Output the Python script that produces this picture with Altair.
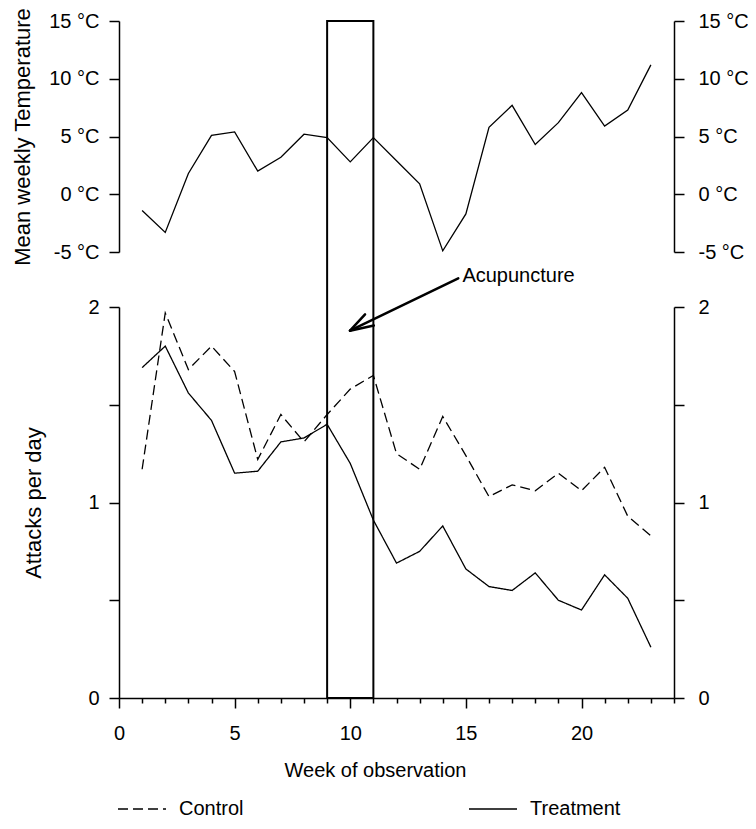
import altair as alt
import pandas as pd

# ---------------- data ----------------
weeks = list(range(1, 24))
temperature = [-1.4, -3.3, 1.8, 5.1, 5.4, 2.0, 3.2, 5.2, 4.9, 2.8, 4.9, 2.9, 0.9,
               -4.9, -1.7, 5.8, 7.7, 4.3, 6.2, 8.8, 5.9, 7.3, 11.2]
control = [1.17, 1.97, 1.68, 1.80, 1.67, 1.22, 1.45, 1.31, 1.45, 1.58, 1.65, 1.25,
           1.17, 1.44, 1.24, 1.03, 1.09, 1.06, 1.15, 1.06, 1.18, 0.93, 0.83]
treatment = [1.69, 1.80, 1.56, 1.42, 1.15, 1.16, 1.31, 1.33, 1.40, 1.20, 0.91, 0.69,
             0.75, 0.88, 0.66, 0.57, 0.55, 0.64, 0.50, 0.45, 0.63, 0.51, 0.26]
groups = ["Control", "Treatment"]
temp_ticks = [-5, 0, 5, 10, 15]
attack_ticks = [0, 0.5, 1, 1.5, 2]
week_ticks = list(range(0, 25))

# acupuncture period and annotation
acu_start, acu_end = 9, 11
arrow_label = "Acupuncture"
arrow_label_pos = (14.85, 2.157)
arrow_seg = ["shaft", "shaft", "upper", "upper", "lower", "lower"]
arrow_week = [14.67, 9.99, 10.64, 9.99, 11.02, 9.99]
arrow_val = [2.147, 1.879, 1.962, 1.879, 1.905, 1.879]

# ---------------- layout ----------------
W, H = 555, 677
TEMP_RANGE = [231, 0]
ATT_RANGE = [677, 286]
FONT = "Liberation Sans"
FS = 20

temp_df = pd.DataFrame({"week": weeks, "temp": temperature})
att_df = pd.DataFrame({
    "week": weeks * 2,
    "attacks": control + treatment,
    "group": [groups[0]] * len(weeks) + [groups[1]] * len(weeks),
})
rect_df = pd.DataFrame({"start": [acu_start], "end": [acu_end], "lo": [0], "hi": [1]})
arrow_df = pd.DataFrame({"seg": arrow_seg, "week": arrow_week, "attacks": arrow_val,
                         "ord": list(range(len(arrow_seg)))})
label_df = pd.DataFrame({"week": [arrow_label_pos[0]], "attacks": [arrow_label_pos[1]],
                         "text": [arrow_label]})

x_scale = alt.Scale(domain=[0, 24], nice=False, zero=False)
x_axis = alt.Axis(
    values=week_ticks,
    labelExpr="datum.value % 5 === 0 ? datum.label : ''",
    tickSize={"condition": {"test": "datum.value % 5 === 0", "value": 10}, "value": 5},
    labelPadding=15,
    title="Week of observation",
    titlePadding=17,
    titleX=256,
)
temp_scale = alt.Scale(domain=[-5, 15], range=TEMP_RANGE, nice=False, zero=False)
att_scale = alt.Scale(domain=[0, 2], range=ATT_RANGE, nice=False, zero=False)
int_label = "datum.value % 1 === 0 ? format(datum.value, 'd') : ''"


def X(field):
    return alt.X(field, type="quantitative", scale=x_scale, axis=x_axis)


temp_left = alt.Chart(temp_df).mark_line(color="black", strokeWidth=1.3).encode(
    x=X("week"),
    y=alt.Y("temp:Q", scale=temp_scale, axis=alt.Axis(
        orient="left", values=temp_ticks, labelExpr="datum.value + ' °C'",
        title="Mean weekly Temperature", titleFontSize=22,
        tickSize=10, labelPadding=10, titlePadding=14)),
)
temp_right = alt.Chart(temp_df).mark_line(color="black", strokeOpacity=0).encode(
    x=X("week"),
    y=alt.Y("temp:Q", scale=temp_scale, axis=alt.Axis(
        orient="right", values=temp_ticks, labelExpr="datum.value + ' °C'",
        title=None, tickSize=10, labelPadding=14)),
)
att_left = alt.Chart(att_df).mark_line(color="black", strokeWidth=1.3).encode(
    x=X("week"),
    y=alt.Y("attacks:Q", scale=att_scale, axis=alt.Axis(
        orient="left", values=attack_ticks, labelExpr=int_label,
        title="Attacks per day", titleFontSize=22,
        tickSize=10, labelPadding=10, titlePadding=42)),
    strokeDash=alt.StrokeDash("group:N", scale=alt.Scale(domain=groups, range=[[10, 5], [1, 0]]),
                              legend=alt.Legend(orient="none", legendX=-2, legendY=763,
                                                direction="horizontal", title=None,
                                                symbolType="stroke", symbolSize=2304,
                                                symbolStrokeWidth=1.4, symbolStrokeColor="black",
                                                labelFontSize=FS, labelFont=FONT, labelColor="black",
                                                labelOffset=12, columnPadding=222)),
    detail="group:N",
)
att_right = alt.Chart(att_df).mark_line(color="black", strokeOpacity=0).encode(
    x=X("week"),
    y=alt.Y("attacks:Q", scale=att_scale, axis=alt.Axis(
        orient="right", values=attack_ticks, labelExpr=int_label,
        title=None, tickSize=10, labelPadding=14)),
    detail="group:N",
)
rect = alt.Chart(rect_df).mark_rect(fillOpacity=0, stroke="black", strokeWidth=2).encode(
    x=X("start"),
    x2="end",
    y=alt.Y("lo:Q", scale=alt.Scale(domain=[0, 1], range=[H, 0], nice=False), axis=None),
    y2="hi",
)
arrow = alt.Chart(arrow_df).mark_line(color="black", strokeWidth=2.5, strokeCap="round").encode(
    x=X("week"),
    y=alt.Y("attacks:Q", scale=att_scale, axis=None),
    detail="seg:N",
    order="ord:Q",
)
label = alt.Chart(label_df).mark_text(align="left", baseline="middle", font=FONT,
                                      fontSize=FS, color="black").encode(
    x=X("week"),
    y=alt.Y("attacks:Q", scale=att_scale, axis=None),
    text="text:N",
)

chart = alt.layer(rect, temp_left, temp_right, att_left, att_right, arrow, label).resolve_scale(
    y="independent"
).properties(
    width=W, height=H,
    autosize=alt.AutoSizeParams(type="none"),
    padding={"left": 111, "top": 13, "right": 74, "bottom": 123},
).configure_view(stroke=None).configure_axis(
    grid=False,
    labelFont=FONT, titleFont=FONT, labelFontSize=FS, titleFontSize=FS,
    titleFontWeight="normal", labelColor="black", titleColor="black",
    domainColor="black", tickColor="black", domainWidth=1.5, tickWidth=1.5,
    labelFlush=False, labelOverlap=False,
)

chart.save("out.html", embed_options={"renderer": "svg", "actions": False})
